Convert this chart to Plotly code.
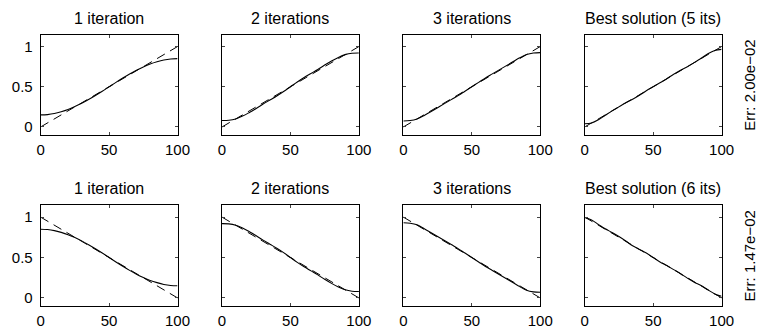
import plotly.graph_objects as go

# ---------------- data ----------------
x_target = [0, 100]
y_target_up = [0, 1]
y_target_down = [1, 0]

x_fit = [0, 5, 10, 15, 20, 25, 30, 35, 40, 45, 50, 55, 60, 65, 70, 75, 80, 85, 90, 95, 100]

top_1it = [0.15, 0.154, 0.167, 0.189, 0.217, 0.253, 0.294, 0.341, 0.392, 0.445, 0.5,
           0.555, 0.608, 0.659, 0.706, 0.747, 0.783, 0.811, 0.833, 0.846, 0.85]
top_2it = [0.08, 0.083, 0.10, 0.135, 0.18, 0.23, 0.285, 0.335, 0.385, 0.44, 0.5,
           0.56, 0.615, 0.665, 0.715, 0.77, 0.82, 0.865, 0.90, 0.917, 0.92]
top_3it = [0.075, 0.08, 0.10, 0.14, 0.19, 0.24, 0.29, 0.34, 0.39, 0.445, 0.5,
           0.555, 0.61, 0.66, 0.71, 0.76, 0.81, 0.86, 0.90, 0.92, 0.925]
top_best = [0.04, 0.05, 0.09, 0.145, 0.2, 0.25, 0.3, 0.345, 0.395, 0.45, 0.5,
            0.55, 0.6, 0.655, 0.705, 0.75, 0.8, 0.855, 0.91, 0.95, 0.965]

bot_1it = [0.85, 0.846, 0.833, 0.811, 0.783, 0.747, 0.706, 0.659, 0.608, 0.555, 0.5,
           0.445, 0.392, 0.341, 0.294, 0.253, 0.217, 0.189, 0.167, 0.154, 0.15]
bot_2it = [0.92, 0.917, 0.90, 0.865, 0.82, 0.77, 0.715, 0.665, 0.615, 0.56, 0.5,
           0.44, 0.385, 0.335, 0.285, 0.23, 0.18, 0.135, 0.10, 0.083, 0.08]
bot_3it = [0.93, 0.925, 0.905, 0.86, 0.81, 0.76, 0.71, 0.66, 0.61, 0.555, 0.5,
           0.445, 0.39, 0.34, 0.29, 0.24, 0.19, 0.14, 0.095, 0.075, 0.07]
bot_best = [0.995, 0.965, 0.91, 0.855, 0.81, 0.76, 0.705, 0.645, 0.6, 0.555, 0.5,
            0.445, 0.4, 0.35, 0.3, 0.245, 0.195, 0.155, 0.1, 0.05, 0.02]

titles_top = ["1 iteration", "2 iterations", "3 iterations", "Best solution (5 its)"]
titles_bottom = ["1 iteration", "2 iterations", "3 iterations", "Best solution (6 its)"]
err_labels = ["Err: 2.00e\u221202", "Err: 1.47e\u221202"]

x_ticks = [0, 50, 100]
y_ticks = [0, 0.5, 1]
y_tick_text = ["0", "0.5", "1"]

# ---------------- layout geometry ----------------
W, H = 760, 332
FONT = "Liberation Sans, Arial, Helvetica, sans-serif"
FS = 15
FS_TITLE = 16
col_left = [37.5, 223, 408.5, 594]
col_w = 140
rows = [(34.5, 135), (205, 306)]

fig = go.Figure()
layout = dict(
    width=W, height=H, margin=dict(l=0, r=0, t=0, b=0),
    paper_bgcolor="white", plot_bgcolor="white",
    showlegend=False, font=dict(family=FONT, size=FS, color="black"),
)
annotations = []

series = [[top_1it, top_2it, top_3it, top_best], [bot_1it, bot_2it, bot_3it, bot_best]]
targets = [y_target_up, y_target_down]
titles = [titles_top, titles_bottom]

idx = 0
for r, (ytop, ybot) in enumerate(rows):
    for c in range(4):
        idx += 1
        xa = "xaxis" if idx == 1 else f"xaxis{idx}"
        ya = "yaxis" if idx == 1 else f"yaxis{idx}"
        xref = "x" if idx == 1 else f"x{idx}"
        yref = "y" if idx == 1 else f"y{idx}"
        x0 = col_left[c] / W
        x1 = (col_left[c] + col_w) / W
        y0 = 1 - ybot / H
        y1 = 1 - ytop / H
        layout[xa] = dict(domain=[x0, x1], anchor=yref, range=[0, 100],
                          tickvals=x_ticks, ticks="inside", ticklen=3,
                          showline=True, linecolor="black", linewidth=1,
                          mirror="ticks", showgrid=False, zeroline=False,
                          tickfont=dict(family=FONT, size=FS, color="black"),
                          ticklabelstandoff=1)
        layout[ya] = dict(domain=[y0, y1], anchor=xref, range=[-0.1, 1.15],
                          tickvals=y_ticks, ticktext=y_tick_text, ticks="inside", ticklen=3,
                          showline=True, linecolor="black", linewidth=1,
                          mirror="ticks", showgrid=False, zeroline=False,
                          showticklabels=(c == 0),
                          tickfont=dict(family=FONT, size=FS, color="black"),
                          ticklabelstandoff=4)
        fig.add_trace(go.Scatter(x=x_target, y=targets[r], mode="lines",
                                 line=dict(color="black", width=1, dash="9px,6px"),
                                 xaxis=xref, yaxis=yref, hoverinfo="skip"))
        fig.add_trace(go.Scatter(x=x_fit, y=series[r][c], mode="lines",
                                 line=dict(color="black", width=1.1, shape="spline"),
                                 xaxis=xref, yaxis=yref, hoverinfo="skip"))
        annotations.append(dict(text=titles[r][c], xref="paper", yref="paper",
                                x=(x0 + x1) / 2, y=1 - (ytop - 16.5) / H,
                                xanchor="center", yanchor="middle", showarrow=False,
                                font=dict(family=FONT, size=FS_TITLE, color="black")))
    annotations.append(dict(text=err_labels[r], xref="paper", yref="paper",
                            x=763 / W, y=1 - ((ytop + ybot) / 2) / H, textangle=-90,
                            xanchor="center", yanchor="middle", showarrow=False,
                            font=dict(family=FONT, size=FS, color="black")))

layout["annotations"] = annotations
fig.update_layout(**layout)
fig.write_html("out.html")
